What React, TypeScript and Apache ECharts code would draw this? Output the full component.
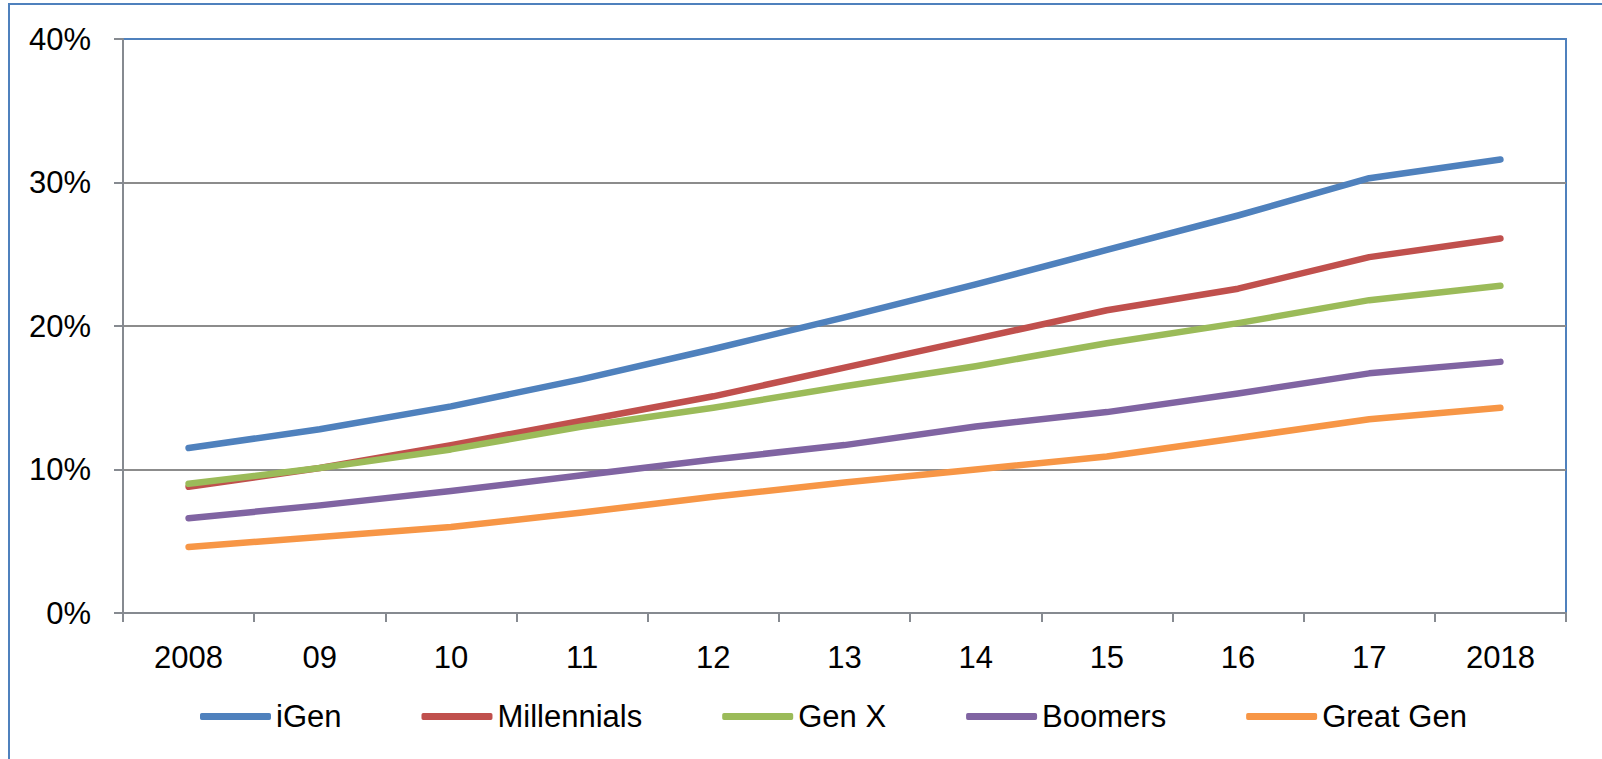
import React, { useEffect, useRef } from "react";
import * as echarts from "echarts";

const years = ["2008", "09", "10", "11", "12", "13", "14", "15", "16", "17", "2018"];
const yTicks = [0, 10, 20, 30, 40];

const iGen = [11.5, 12.8, 14.4, 16.3, 18.4, 20.6, 22.9, 25.3, 27.7, 30.3, 31.6];
const millennials = [8.8, 10.1, 11.7, 13.4, 15.1, 17.1, 19.1, 21.1, 22.6, 24.8, 26.1];
const genX = [9.0, 10.1, 11.4, 13.0, 14.3, 15.8, 17.2, 18.8, 20.2, 21.8, 22.8];
const boomers = [6.6, 7.5, 8.5, 9.6, 10.7, 11.7, 13.0, 14.0, 15.3, 16.7, 17.5];
const greatGen = [4.6, 5.3, 6.0, 7.0, 8.1, 9.1, 10.0, 10.9, 12.2, 13.5, 14.3];

const seriesNames = ["iGen", "Millennials", "Gen X", "Boomers", "Great Gen"];
const seriesColors = ["#4F81BD", "#C0504D", "#9BBB59", "#8064A2", "#F79646"];
const seriesValues = [iGen, millennials, genX, boomers, greatGen];

const FONT = "'Liberation Sans', Arial, sans-serif";
const AXIS_GRAY = "#868a90";
const GRID_GRAY = "#8c8c8c";
const FRAME_BLUE = "#4F81BD";

export default function App() {
  const ref = useRef<HTMLDivElement>(null);

  useEffect(() => {
    document.body.style.margin = "0";
    if (!ref.current) return;
    const chart = echarts.init(ref.current, undefined, { renderer: "svg" });

    chart.setOption({
      animation: false,
      backgroundColor: "#ffffff",
      textStyle: { fontFamily: FONT },
      graphic: [
        {
          type: "rect",
          shape: { x: 9, y: 4, width: 1700, height: 900 },
          style: { fill: "none", stroke: FRAME_BLUE, lineWidth: 2 },
          silent: true,
        },
      ],
      grid: {
        left: 123,
        top: 39,
        right: 36,
        bottom: 146,
        show: true,
        borderColor: FRAME_BLUE,
        borderWidth: 2,
        backgroundColor: "transparent",
      },
      legend: {
        data: seriesNames,
        left: 195,
        top: 696,
        itemWidth: 71,
        itemHeight: 7,
        itemGap: 80,
        icon: "roundRect",
        textStyle: { fontSize: 31, color: "#000", fontFamily: FONT },
      },
      xAxis: {
        type: "category",
        data: years,
        boundaryGap: true,
        axisLine: { show: true, lineStyle: { color: AXIS_GRAY, width: 2 } },
        axisTick: {
          show: true,
          alignWithLabel: false,
          length: 9,
          lineStyle: { color: AXIS_GRAY, width: 2 },
        },
        axisLabel: { fontSize: 31, color: "#000", margin: 29, fontFamily: FONT },
        splitLine: { show: false },
      },
      yAxis: {
        type: "value",
        min: yTicks[0],
        max: yTicks[yTicks.length - 1],
        interval: 10,
        axisLine: { show: true, lineStyle: { color: AXIS_GRAY, width: 2 } },
        axisTick: { show: true, length: 9, lineStyle: { color: AXIS_GRAY, width: 2 } },
        axisLabel: {
          fontSize: 31,
          color: "#000",
          margin: 32,
          fontFamily: FONT,
          formatter: "{value}%",
        },
        splitLine: {
          show: true,
          showMaxLine: false,
          lineStyle: { color: GRID_GRAY, width: 2 },
        },
      },
      series: seriesNames.map((name, i) => ({
        name,
        type: "line",
        data: seriesValues[i],
        showSymbol: false,
        symbol: "none",
        smooth: false,
        color: seriesColors[i],
        lineStyle: { width: 6.5, color: seriesColors[i], cap: "round", join: "round" },
        itemStyle: { color: seriesColors[i] },
      })),
    });

    return () => chart.dispose();
  }, []);

  return <div ref={ref} style={{ width: 1602, height: 759 }} />;
}
